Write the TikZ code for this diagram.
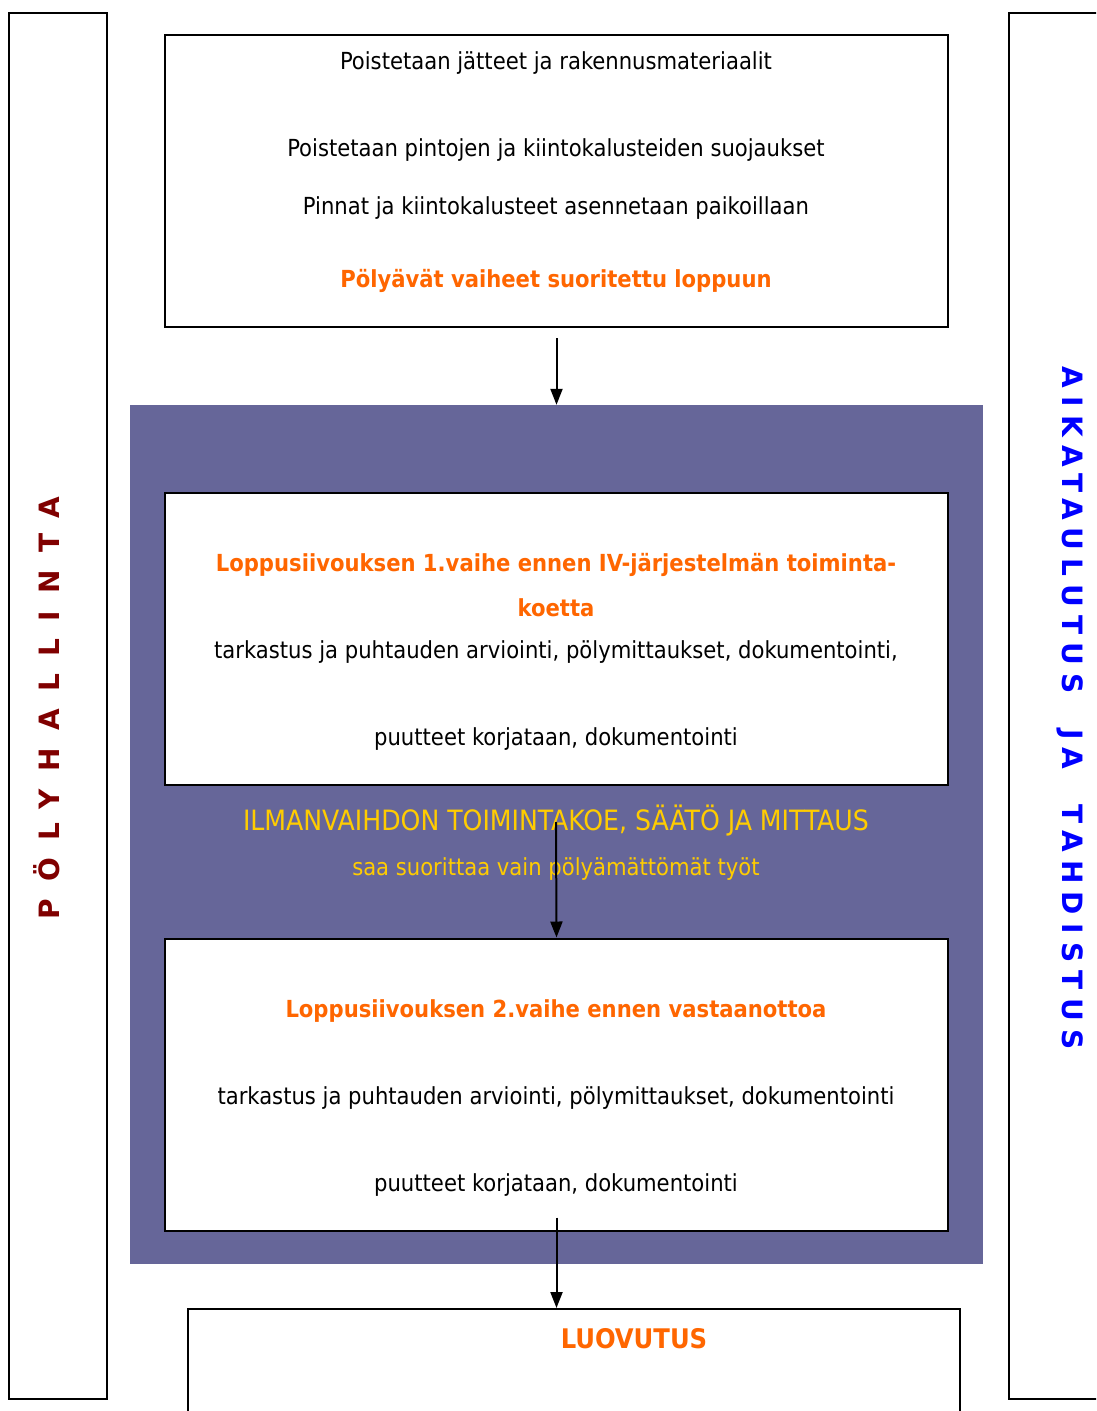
\documentclass[tikz,border=0pt]{standalone}
\usepackage{fontspec}
\setmainfont{DejaVu Sans Condensed}
\newfontfamily\barfont{DejaVu Sans}
\usetikzlibrary{arrows.meta}

\definecolor{ivpurple}{RGB}{102,102,153}
\definecolor{phaseorange}{RGB}{255,102,0}
\definecolor{ivyellow}{RGB}{255,204,0}
\definecolor{barred}{RGB}{128,0,0}
\definecolor{barblue}{RGB}{0,0,255}

\begin{document}
\begin{tikzpicture}[x=1pt, y=-1pt, >={Stealth[length=16pt, width=12pt, inset=0pt]},
  every node/.style={align=center},
  stagebox/.style={draw, line width=2pt, fill=white, minimum width=783pt, minimum height=292pt, inner sep=0pt},
  bodytext/.style={font=\fontsize{23.5}{27}\selectfont},
  headtext/.style={font=\fontsize{23.5}{27}\selectfont\bfseries, text=phaseorange},
  ivtext/.style={text=ivyellow},
  bartext/.style={font=\fontsize{28}{30}\selectfont\barfont\bfseries}]

\clip (0,0) rectangle (1096,1411);

% Side bars
\node[draw, line width=2pt, minimum width=98pt, minimum height=1386pt, inner sep=0pt] (leftbar) at (58,706) {};
\node[draw, line width=2pt, minimum width=120pt, minimum height=1386pt, inner sep=0pt] (rightbar) at (1069,706) {};
\node[bartext, text=barred, rotate=90] (dustlabel) at (47,708) {\addfontfeature{LetterSpace=62}PÖLYHALLINTA};
\node[bartext, text=barblue, rotate=-90] (schedlabel) at (1070,708) {\addfontfeature{LetterSpace=30}AIKATAULUTUS\hspace{17pt} JA\hspace{17pt} TAHDISTUS};

% Ventilation zone
\node[fill=ivpurple, minimum width=853pt, minimum height=859pt, inner sep=0pt] (ivzone) at (556.5,834.5) {};

% Stages
\node[stagebox] (removal) at (556.5,181) {};
\node[bodytext] (removal1) at (556,63) {Poistetaan jätteet ja rakennusmateriaalit};
\node[bodytext] (removal2) at (556,150) {Poistetaan pintojen ja kiintokalusteiden suojaukset};
\node[bodytext] (removal3) at (556,208) {Pinnat ja kiintokalusteet asennetaan paikoillaan};
\node[headtext] (removal4) at (556,281) {Pölyävät vaiheet suoritettu loppuun};

\node[stagebox] (phase1) at (556.5,639) {};
\node[headtext] (phase1head) at (556,565) {Loppusiivouksen 1.vaihe ennen IV-järjestelmän toiminta-};
\node[headtext] (phase1head2) at (556,608) {koetta};
\node[bodytext] (phase1a) at (556,652) {tarkastus ja puhtauden arviointi, pölymittaukset, dokumentointi,};
\node[bodytext] (phase1b) at (556,739) {puutteet korjataan, dokumentointi};

\node[ivtext, font=\fontsize{28}{31}\selectfont] (ivtest) at (556,821) {ILMANVAIHDON TOIMINTAKOE, SÄÄTÖ JA MITTAUS};
\node[ivtext, bodytext] (ivnote) at (556,869) {saa suorittaa vain pölyämättömät työt};

\node[stagebox] (phase2) at (556.5,1084.5) {};
\node[headtext] (phase2head) at (556,1011) {Loppusiivouksen 2.vaihe ennen vastaanottoa};
\node[bodytext] (phase2a) at (556,1098) {tarkastus ja puhtauden arviointi, pölymittaukset, dokumentointi};
\node[bodytext] (phase2b) at (556,1185) {puutteet korjataan, dokumentointi};

\node[draw, line width=2pt, fill=white, minimum width=772pt, minimum height=200pt, inner sep=0pt] (handover) at (574,1409) {};
\node[headtext, font=\fontsize{27}{30}\selectfont\bfseries] (handoverhead) at (634,1339) {LUOVUTUS};

% Arrows
\coordinate (ivstart) at (556,822);
\draw[->, line width=2pt] ([yshift=-10pt]removal.south) -- (ivzone.north -| removal.south);
\draw[->, line width=2pt] (ivstart) -- (phase2.north);
\draw[->, line width=2pt] ([yshift=14pt]phase2.south) -- (phase2.south |- handover.north);

\end{tikzpicture}
\end{document}
